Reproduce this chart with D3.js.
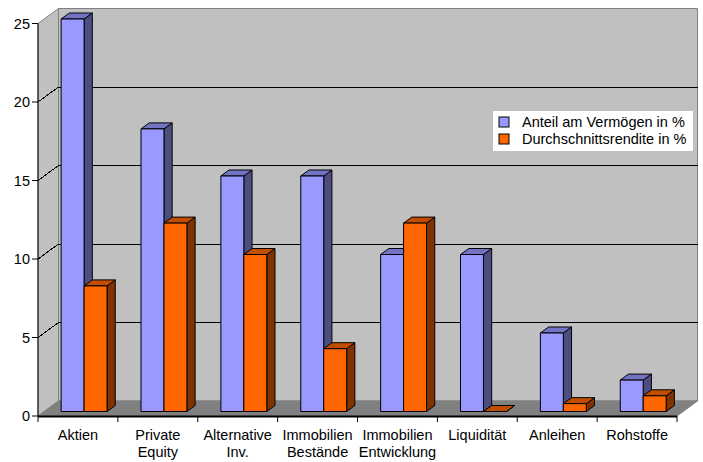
<!DOCTYPE html>
<html>
<head>
<meta charset="utf-8">
<script src="https://cdn.jsdelivr.net/npm/d3@7"></script>
<style>
  body { margin: 0; background: #fff; }
  text { font-family: "Liberation Sans", Arial, sans-serif; fill: #000; }
</style>
</head>
<body>
<div id="chart"></div>
<script>
// Data
const categories = [
  ["Aktien"], ["Private", "Equity"], ["Alternative", "Inv."], ["Immobilien", "Bestände"],
  ["Immobilien", "Entwicklung"], ["Liquidität"], ["Anleihen"], ["Rohstoffe"]
];
const seriesNames = ["Anteil am Vermögen in %", "Durchschnittsrendite in %"];
const anteil = [25, 18, 15, 15, 10, 10, 5, 2];
const rendite = [8, 12, 10, 4, 12, 0, 0.5, 1];
const yTicks = [0, 5, 10, 15, 20, 25];

const colors = [
  { front: "#9999ff", top: "#7373c4", side: "#4d4d80" },
  { front: "#ff6600", top: "#c04d00", side: "#803300" }
];

const W = 703, H = 462;
const DX = 20.5, DY = -15;   // depth offset of back wall
const Z0 = 0.3, Z1 = 0.7;    // bar depth range
const FS = "14.5px";

const svg = d3.select("#chart").append("svg")
  .attr("width", W)
  .attr("height", H);

const keys = categories.map((c, i) => i);
const x = d3.scaleBand().domain(keys).range([38, 677]);
const xs = d3.scaleBand().domain([0, 1]).range([0, x.bandwidth()]).paddingOuter(0.74);
const y = d3.scaleLinear().domain([0, 25]).range([416, 23.5]);

const P = (px, v, z) => [px + z * DX, y(v) + z * DY];
const poly = pts => pts.map(p => p.join(",")).join(" ");

// Walls
const x0 = x.range()[0], x1 = x.range()[1];
svg.append("polygon") // back wall
  .attr("points", poly([P(x0, 0, 1), P(x0, 25, 1), P(x1, 25, 1), P(x1, 0, 1)]))
  .attr("fill", "#c0c0c0").attr("stroke", "#808080");
svg.append("polygon") // side wall
  .attr("points", poly([P(x0, 0, 0), P(x0, 25, 0), P(x0, 25, 1), P(x0, 0, 1)]))
  .attr("fill", "#c0c0c0").attr("stroke", "#808080");

// Gridlines
yTicks.filter(t => t > 0 && t < 25).forEach(t => {
  svg.append("polyline")
    .attr("points", poly([P(x0, t, 0), P(x0, t, 1), P(x1, t, 1)]))
    .attr("fill", "none").attr("stroke", "#000").attr("stroke-width", 1)
    .attr("shape-rendering", "crispEdges");
});

// Floor
svg.append("polygon")
  .attr("points", poly([P(x0, 0, 0), P(x0, 0, 1), P(x1, 0, 1), P(x1, 0, 0)]))
  .attr("fill", "#808080").attr("stroke", "#808080");

// Axes (front edges)
svg.append("line")
  .attr("x1", x0).attr("x2", x0).attr("y1", y(0)).attr("y2", y(25))
  .attr("stroke", "#000");
svg.append("line")
  .attr("x1", x0).attr("x2", x1).attr("y1", y(0) + 0.5).attr("y2", y(0) + 0.5)
  .attr("stroke", "#000").attr("stroke-width", 2);

const yAxis = svg.append("g");
yTicks.forEach(t => {
  yAxis.append("line")
    .attr("x1", x0 - 6).attr("x2", x0).attr("y1", y(t)).attr("y2", y(t))
    .attr("stroke", "#000");
  yAxis.append("text")
    .attr("x", x0 - 8).attr("y", y(t) + 5)
    .attr("text-anchor", "end")
    .style("font-size", FS)
    .text(t);
});

// x ticks and labels
d3.range(categories.length + 1).forEach(i => {
  const px = i < categories.length ? x(i) : x1;
  svg.append("line")
    .attr("x1", px).attr("x2", px).attr("y1", y(0)).attr("y2", y(0) + 6)
    .attr("stroke", "#000");
});
categories.forEach((c, i) => {
  const t = svg.append("text")
    .attr("x", x(i) + x.bandwidth() / 2)
    .attr("y", 440)
    .attr("text-anchor", "middle")
    .style("font-size", FS);
  c.forEach((line, j) => {
    t.append("tspan")
      .attr("x", x(i) + x.bandwidth() / 2)
      .attr("dy", j === 0 ? 0 : 17)
      .text(line);
  });
});

// Bars
const series = [anteil, rendite];
const bars = svg.append("g");
categories.forEach((c, i) => {
  series.forEach((vals, s) => {
    const v = vals[i];
    const bx0 = x(i) + xs(s), bx1 = bx0 + xs.bandwidth();
    const g = bars.append("g")
      .attr("stroke", "#000").attr("stroke-width", 1).attr("stroke-linejoin", "round");
    // side
    g.append("polygon")
      .attr("points", poly([P(bx1, 0, Z0), P(bx1, v, Z0), P(bx1, v, Z1), P(bx1, 0, Z1)]))
      .attr("fill", colors[s].side);
    // top
    g.append("polygon")
      .attr("points", poly([P(bx0, v, Z0), P(bx0, v, Z1), P(bx1, v, Z1), P(bx1, v, Z0)]))
      .attr("fill", colors[s].top);
    // front
    if (v > 0) {
      g.append("polygon")
        .attr("points", poly([P(bx0, 0, Z0), P(bx0, v, Z0), P(bx1, v, Z0), P(bx1, 0, Z0)]))
        .attr("fill", colors[s].front);
    }
  });
});

// Legend
const legend = svg.append("g").attr("transform", "translate(493,111)");
legend.append("rect")
  .attr("width", 200).attr("height", 40)
  .attr("fill", "#fff");
seriesNames.forEach((name, s) => {
  legend.append("rect")
    .attr("x", 6).attr("y", 6 + s * 17)
    .attr("width", 10).attr("height", 10)
    .attr("fill", colors[s].front).attr("stroke", "#000");
  legend.append("text")
    .attr("x", 29).attr("y", 16 + s * 17)
    .style("font-size", FS)
    .text(name);
});
</script>
</body>
</html>
